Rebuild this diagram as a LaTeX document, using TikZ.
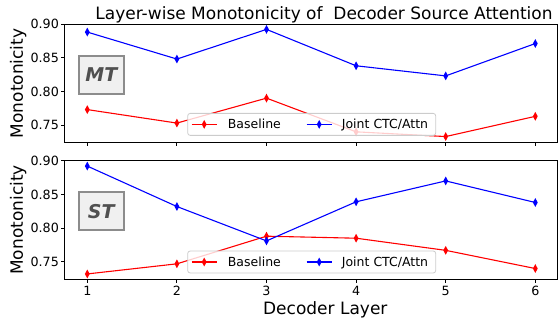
\documentclass[tikz,border=0pt]{standalone}
\usepackage{fontspec}
\setmainfont{DejaVu Sans}
\usetikzlibrary{shapes.geometric}

\definecolor{boxedge}{HTML}{8C8C8C}
\definecolor{boxfill}{HTML}{F0F0F0}
\definecolor{boxtext}{HTML}{505050}
\definecolor{legedge}{HTML}{CCCCCC}
\definecolor{basered}{HTML}{FF0000}
\definecolor{jointblue}{HTML}{0000FF}

\begin{document}
\begin{tikzpicture}
[
    x=1pt, y=1pt,
    spine/.style={line width=0.9pt},
    series/.style={line width=1.1pt},
    dmd/.style={diamond, fill, inner sep=0pt, minimum width=5pt, minimum height=9pt},
    ticklab/.style={inner sep=0pt, font=\fontsize{12.7}{14}\selectfont},
    axlab/.style={inner sep=0pt, font=\fontsize{17}{20}\selectfont},
    tagbox/.style={draw=boxedge, line width=2pt, fill=boxfill, text=boxtext,
        minimum width=45.3pt, minimum height=38pt,
        font=\fontsize{19}{22}\selectfont\bfseries\itshape},
    legbox/.style={draw=legedge, fill=white, fill opacity=0.8, rounded corners=2.5pt,
        line width=0.8pt, minimum width=248pt, minimum height=22pt},
    legtext/.style={inner sep=0pt, anchor=base west, font=\fontsize{12.5}{14}\selectfont},
]
\useasboundingbox (0,0) rectangle (559,321);

% MT panel
\begin{scope}[x=89.6pt, y=674pt, shift={(-2.3pt,-309.6pt)}]
    \draw[spine] (0.75,0.724) rectangle (6.25,0.90);
    \foreach \v in {0.75,0.80,0.85,0.90}
        \draw[spine] (0.75,\v) -- ++(-3.5pt,0)
            node[ticklab, anchor=east, xshift=-2.1pt] {\v};
    \foreach \k in {1,...,6}
        \draw[spine] (\k,0.724) -- ++(0,-3.5pt);
    \foreach \v [count=\i] in {0.773,0.753,0.790,0.740,0.733,0.763}
        \node[dmd, basered] (mtb\i) at (\i,\v) {};
    \foreach \v [count=\i] in {0.888,0.848,0.892,0.838,0.823,0.871}
        \node[dmd, jointblue] (mtj\i) at (\i,\v) {};
    \draw[series, basered] (mtb1.center) \foreach \i in {2,...,6} { -- (mtb\i.center)};
    \draw[series, jointblue] (mtj1.center) \foreach \i in {2,...,6} { -- (mtj\i.center)};
\end{scope}

% ST panel
\begin{scope}[x=89.6pt, y=674pt, shift={(-2.3pt,-446.3pt)}]
    \draw[spine] (0.75,0.724) rectangle (6.25,0.90);
    \foreach \v in {0.75,0.80,0.85,0.90}
        \draw[spine] (0.75,\v) -- ++(-3.5pt,0)
            node[ticklab, anchor=east, xshift=-2.1pt] {\v};
    \foreach \k in {1,...,6}
        \draw[spine] (\k,0.724) -- ++(0,-3.5pt)
            node[ticklab, anchor=north, yshift=-3pt] {\k};
    \foreach \v [count=\i] in {0.732,0.747,0.788,0.785,0.767,0.740}
        \node[dmd, basered] (stb\i) at (\i,\v) {};
    \foreach \v [count=\i] in {0.892,0.832,0.781,0.839,0.870,0.838}
        \node[dmd, jointblue] (stj\i) at (\i,\v) {};
    \draw[series, basered] (stb1.center) \foreach \i in {2,...,6} { -- (stb\i.center)};
    \draw[series, jointblue] (stj1.center) \foreach \i in {2,...,6} { -- (stj\i.center)};
\end{scope}

% tags
\node[tagbox] (mttag) at (101.3,246) {MT};
\node[tagbox] (sttag) at (101.3,109.8) {ST};

% legends
\foreach \pan/\y in {mt/196.6, st/59} {
    \node[legbox] (\pan leg) at (311.7,\y) {};
    \node[dmd, basered] (\pan lb) at (204.2,\y) {};
    \node[dmd, jointblue] (\pan lj) at (319.2,\y) {};
    \draw[series, basered] ([xshift=-12.5pt]\pan lb.center) -- ([xshift=12.5pt]\pan lb.center);
    \draw[series, jointblue] ([xshift=-12.5pt]\pan lj.center) -- ([xshift=12.5pt]\pan lj.center);
    \node[legtext] (\pan lbt) at (227.7,\y-4.5) {Baseline};
    \node[legtext] (\pan ljt) at (341.7,\y-4.5) {Joint CTC/Attn};
}

% labels
\node[axlab, anchor=base] (title) at (324,301.7) {Layer-wise Monotonicity of\ \ Decoder Source Attention};
\node[axlab, anchor=base] (xlab) at (325.3,6.9) {Decoder Layer};
\node[axlab, rotate=90] (mtylab) at (18.3,237.6) {Monotonicity};
\node[axlab, rotate=90] (stylab) at (18.3,101) {Monotonicity};
\end{tikzpicture}
\end{document}
